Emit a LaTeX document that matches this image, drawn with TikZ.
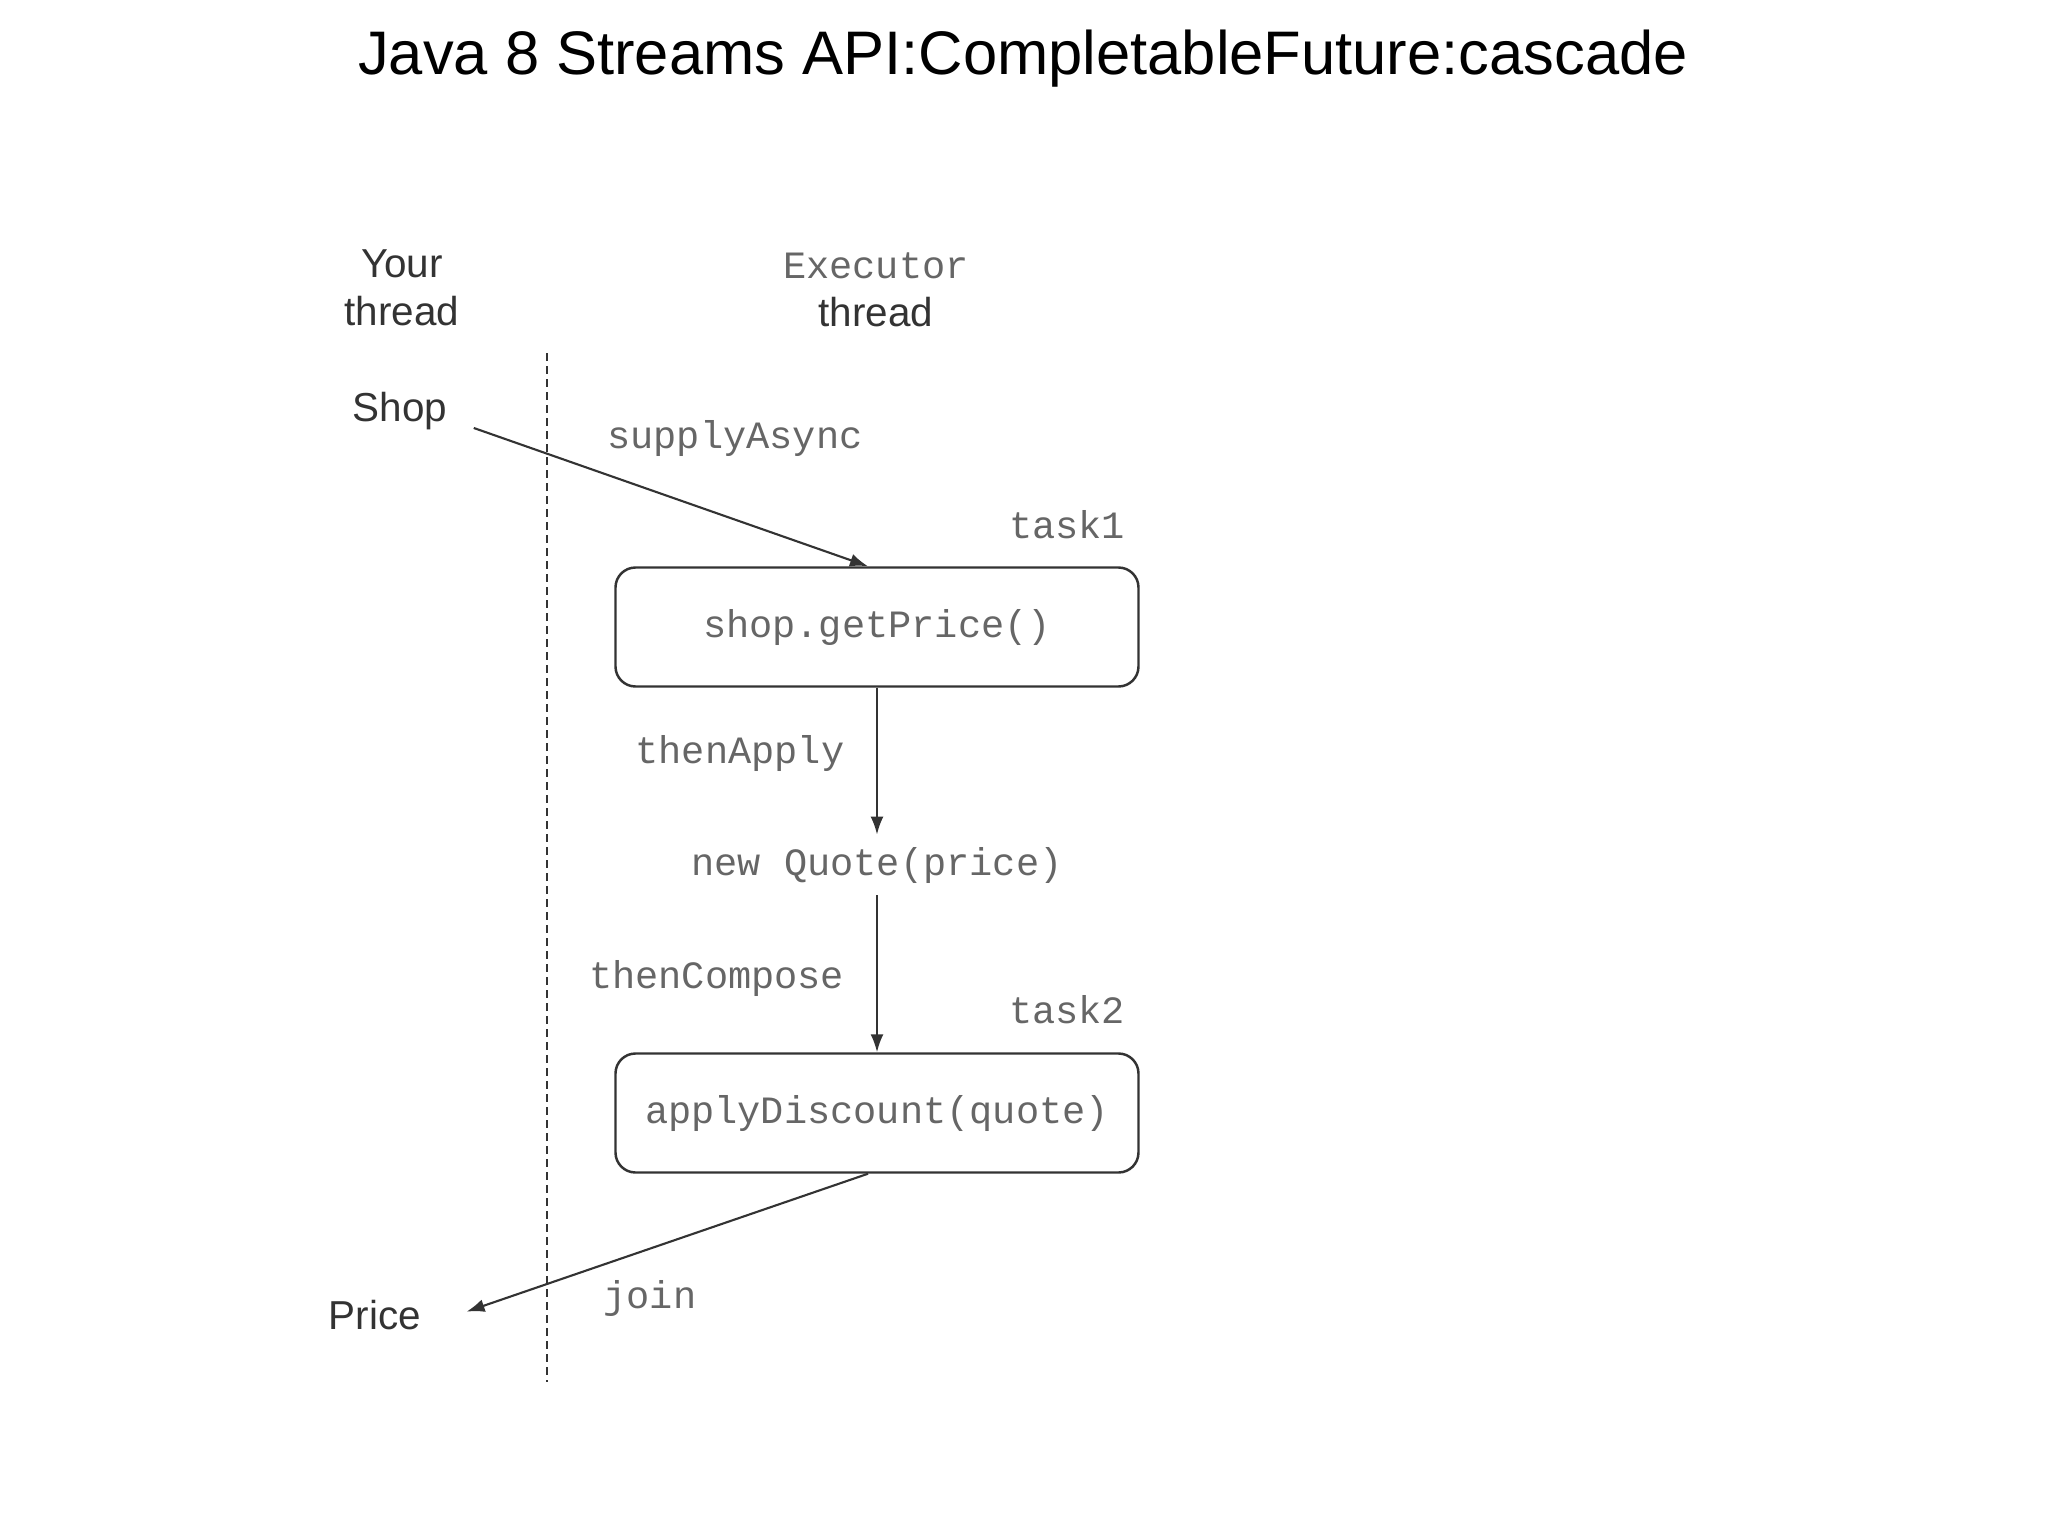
\documentclass[tikz,border=0pt]{standalone}
\usepackage{fontspec}
\setmainfont{Liberation Sans}
\setmonofont{Liberation Mono}
\usetikzlibrary{arrows.meta, positioning}
\definecolor{ink}{HTML}{333333}
\definecolor{code}{HTML}{666666}
\tikzset{title/.style={font=\fontsize{17.5}{21}\selectfont,text=black},lbl/.style={font=\fontsize{11.5}{13.8}\selectfont,text=ink,align=center},mono/.style={font=\fontsize{11}{13.8}\ttfamily,text=code},box/.style={rectangle,draw=ink,line width=0.7pt,rounded corners=2mm,minimum width=52.3mm,minimum height=11.9mm},line/.style={-{Latex[length=1.8mm,width=1.3mm]},draw=ink,line width=0.6pt},divider/.style={draw=ink,line width=0.6pt,dash pattern=on 0.8mm off 0.5mm}}

\begin{document}
\begin{tikzpicture}
\useasboundingbox (0,0) rectangle (20.48,-15.35);
\node[title] (t) at (10.23,-0.585) {Java 8 Streams API:CompletableFuture:cascade};
\node[lbl] (yt) at (4.02,-2.88) {Your\\thread};
\node[lbl] (et) at (8.76,-2.90) {{\fontsize{11}{13.8}\ttfamily\color{code}Executor}\\thread};
\coordinate (top) at (5.47,-3.53);
\coordinate (bot) at (5.47,-13.82);
\draw[divider] (top) -- (bot);
\node[lbl] (shop) at (4.00,-4.11) {Shop};
\node[box] (b1) at (8.77,-6.27) {};
\node[mono] at (b1) {shop.getPrice()};
\node[mono] (t1) at (10.67,-5.25) {task1};
\node[mono] (sa) at (7.35,-4.38) {supplyAsync};
\node[mono] (q) at (8.77,-8.65) {new Quote(price)};
\node[box] (b2) at (8.77,-11.13) {};
\node[mono] at (b2) {applyDiscount(quote)};
\node[mono] (t2) at (10.67,-10.10) {task2};
\node[lbl] (price) at (3.75,-13.15) {Price};
\node[mono] (j) at (6.50,-12.98) {join};
\draw[line,shorten <=1.5mm] ([yshift=-1.2mm]shop.east) -- ([xshift=-0.9mm]b1.north);
\draw[line] (b1) -- node[mono,left=2mm,yshift=0.8mm] {thenApply} (q);
\draw[line] (q) -- node[mono,left=2mm,yshift=-0.5mm] {thenCompose} (b2);
\draw[line,shorten >=3.5mm] ([xshift=-0.9mm]b2.south) -- ([yshift=-0.8mm]price.east);
\end{tikzpicture}
\end{document}
